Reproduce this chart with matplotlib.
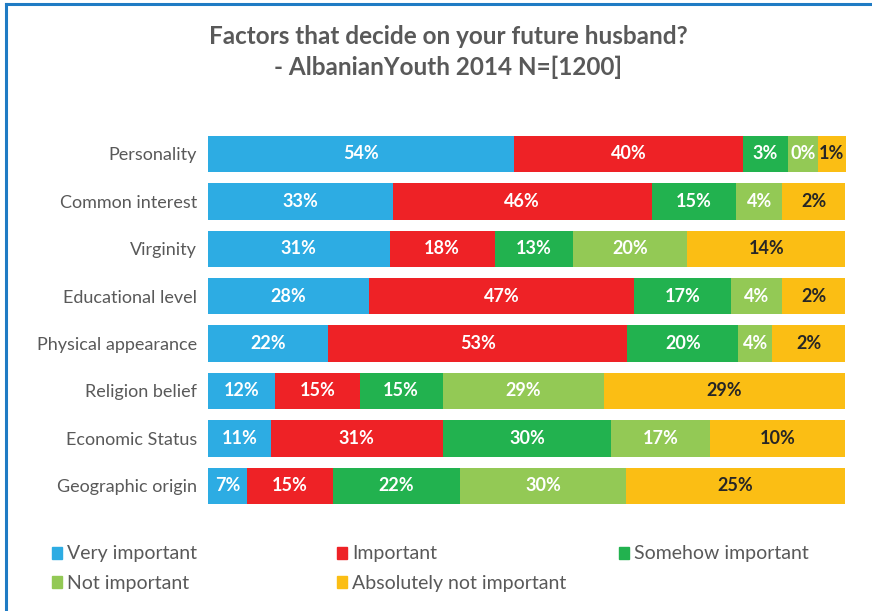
import matplotlib
matplotlib.use("Agg")
import matplotlib.pyplot as plt
from matplotlib.patches import Rectangle
from matplotlib.lines import Line2D

plt.rcParams['font.family'] = ['Lato', 'DejaVu Sans']

categories = ["Personality", "Common interest", "Virginity", "Educational level",
              "Physical appearance", "Religion belief", "Economic Status", "Geographic origin"]
series_names = ["Very important", "Important", "Somehow important",
                "Not important", "Absolutely not important"]

# Bar segment lengths as drawn in the picture (share of the full bar, %)
very_important_len = [48.0, 29.0, 28.5, 25.3, 18.9, 10.5, 9.9, 6.1]
important_len = [35.9, 40.6, 16.5, 41.6, 46.9, 13.3, 26.9, 13.5]
somehow_len = [7.1, 13.3, 12.2, 15.2, 17.4, 13.0, 26.5, 19.9]
not_important_len = [4.7, 7.2, 18.0, 8.0, 5.3, 25.3, 15.4, 26.1]
absolutely_not_len = [4.4, 9.9, 24.8, 9.9, 11.5, 37.9, 21.3, 34.4]

# Labels printed on the bars (%)
very_important_lbl = [54, 33, 31, 28, 22, 12, 11, 7]
important_lbl = [40, 46, 18, 47, 53, 15, 31, 15]
somehow_lbl = [3, 15, 13, 17, 20, 15, 30, 22]
not_important_lbl = [0, 4, 20, 4, 4, 29, 17, 30]
absolutely_not_lbl = [1, 2, 14, 2, 2, 29, 10, 25]

lengths = [very_important_len, important_len, somehow_len, not_important_len, absolutely_not_len]
labels = [very_important_lbl, important_lbl, somehow_lbl, not_important_lbl, absolutely_not_lbl]
colors = ['#2DACE3', '#EE2226', '#22B24F', '#93C955', '#FBBE14']
text_colors = ['white', 'white', 'white', 'white', '#262626']

W, H = 872, 611
fig = plt.figure(figsize=(W / 100, H / 100), dpi=100)
ax = fig.add_axes([208 / W, 1 - 509.5 / H, (846 - 208) / W, 379.2 / H])

ypos = list(range(len(categories)))
left = [0.0] * len(categories)
for seg, lbl, col, tcol in zip(lengths, labels, colors, text_colors):
    bars = ax.barh(ypos, seg, left=left, height=0.77, color=col, edgecolor='none')
    ax.bar_label(bars, labels=[f"{v}%" for v in lbl], label_type='center',
                 color=tcol, fontsize=13, fontweight='bold')
    left = [a + b for a, b in zip(left, seg)]

ax.set_xlim(0, max(left))
ax.set_ylim(len(categories) - 0.5, -0.5)
ax.set_yticks(ypos)
ax.set_yticklabels(categories, fontsize=13, color='#595959')
ax.set_xticks([])
ax.tick_params(axis='y', length=0, pad=8)
for s in ax.spines.values():
    s.set_visible(False)

fig.text(448 / W, 1 - 36 / H, "Factors that decide on your future husband?",
         ha='center', va='center', fontsize=17.5, fontweight='bold', color='#595959')
fig.text(448 / W, 1 - 67 / H, "- AlbanianYouth 2014 N=[1200]",
         ha='center', va='center', fontsize=17.5, fontweight='bold', color='#595959')

# legend (manual placement)
leg_pos = [(52, 553), (337, 553), (619, 553), (52, 582), (337, 582)]
for (x, y), name, col in zip(leg_pos, series_names, colors):
    fig.patches.append(Rectangle((x / W, 1 - (y + 6) / H), 10 / W, 12 / H,
                                 transform=fig.transFigure, color=col))
    fig.text((x + 15) / W, 1 - (y + 1) / H, name, ha='left', va='center',
             fontsize=14, color='#595959')

# figure border (top and left)
fig.add_artist(Line2D([6 / W, 1], [1 - 4 / H, 1 - 4 / H], transform=fig.transFigure,
                      color='#1F7BC4', lw=2.2))
fig.add_artist(Line2D([6 / W, 6 / W], [0, 1 - 4 / H], transform=fig.transFigure,
                      color='#1F7BC4', lw=2.2))

fig.savefig("out.png", dpi=100)
